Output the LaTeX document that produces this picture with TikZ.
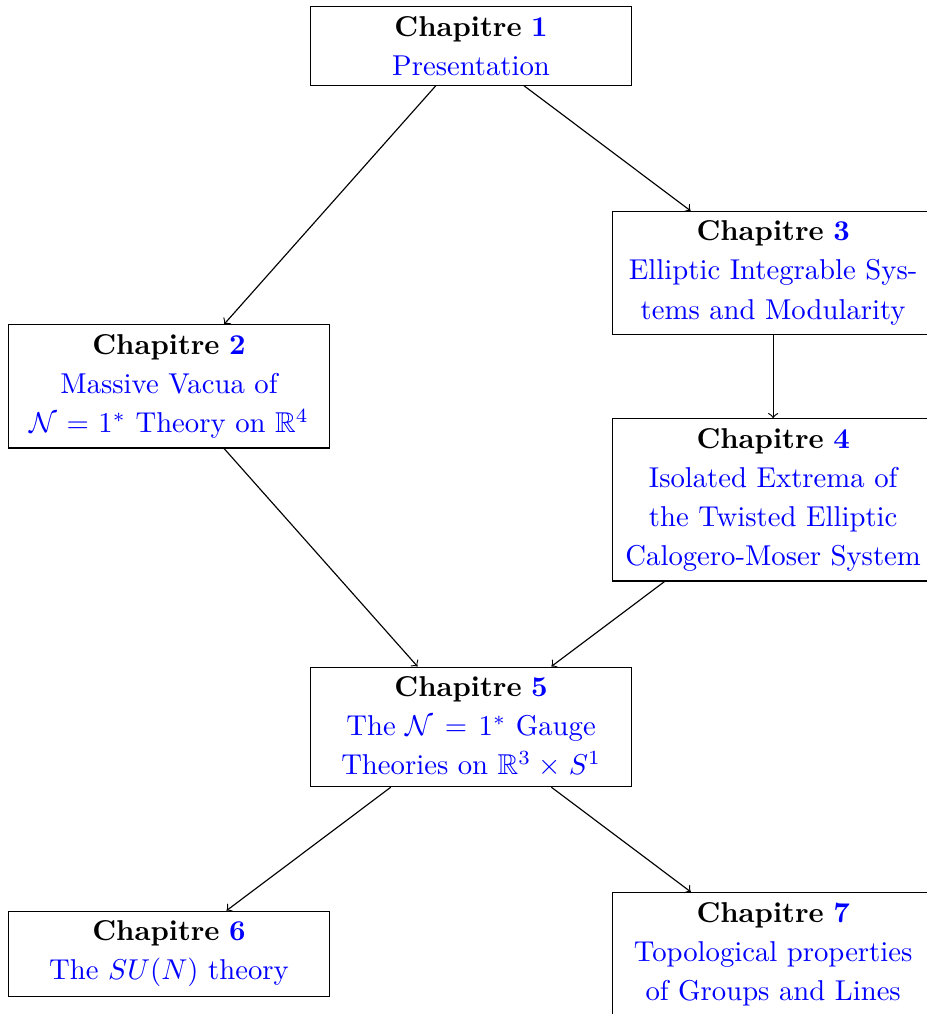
\documentclass[tikz,border=0pt]{standalone}
\usepackage{amssymb}
\usepackage{tikz}

\begin{document}
\begin{tikzpicture}[chapbox/.style={shape=rectangle, draw=black, text width=3.7cm, align=center, font=\fontsize{10}{13.6}\selectfont}]
    % Fix the frame of the picture
    \useasboundingbox (-2.07,0.563) rectangle (9.28,-11.857);

    % Draw nodes
    \node[chapbox] (chap1) at (3.7,0) {\textbf{Chapitre \textcolor{blue}{1}}\\ \textcolor{blue}{Presentation}};
    \node[chapbox] (chap2) at (0,-4.17) {\textbf{Chapitre \textcolor{blue}{2}}\\ \textcolor{blue}{Massive Vacua of\\ $\mathcal{N}=1^*$ Theory on $\mathbb{R}^4$}};
    \node[chapbox] (chap3) at (7.4,-2.78) {\textbf{Chapitre \textcolor{blue}{3}}\\ \textcolor{blue}{Elliptic Integrable Sys-\\ tems and Modularity}};
    \node[chapbox] (chap4) at (7.4,-5.56) {\textbf{Chapitre \textcolor{blue}{4}}\\ \textcolor{blue}{Isolated Extrema of\\ the Twisted Elliptic\\ Calogero-Moser System}};
    \node[chapbox] (chap5) at (3.7,-8.34) {\textbf{Chapitre \textcolor{blue}{5}}\\ \textcolor{blue}{The $\mathcal{N}=1^*$ Gauge\\ Theories on $\mathbb{R}^3\times S^1$}};
    \node[chapbox] (chap6) at (0,-11.12) {\textbf{Chapitre \textcolor{blue}{6}}\\ \textcolor{blue}{The $SU(N)$ theory}};
    \node[chapbox] (chap7) at (7.4,-11.12) {\textbf{Chapitre \textcolor{blue}{7}}\\ \textcolor{blue}{Topological properties\\ of Groups and Lines}};

    % Draw edges
    \draw[->] (chap1) -- (chap2);
    \draw[->] (chap1) -- (chap3);
    \draw[->] (chap3) -- (chap4);
    \draw[->] (chap2) -- (chap5);
    \draw[->] (chap4) -- (chap5);
    \draw[->] (chap5) -- (chap6);
    \draw[->] (chap5) -- (chap7);

\end{tikzpicture}
\end{document}
